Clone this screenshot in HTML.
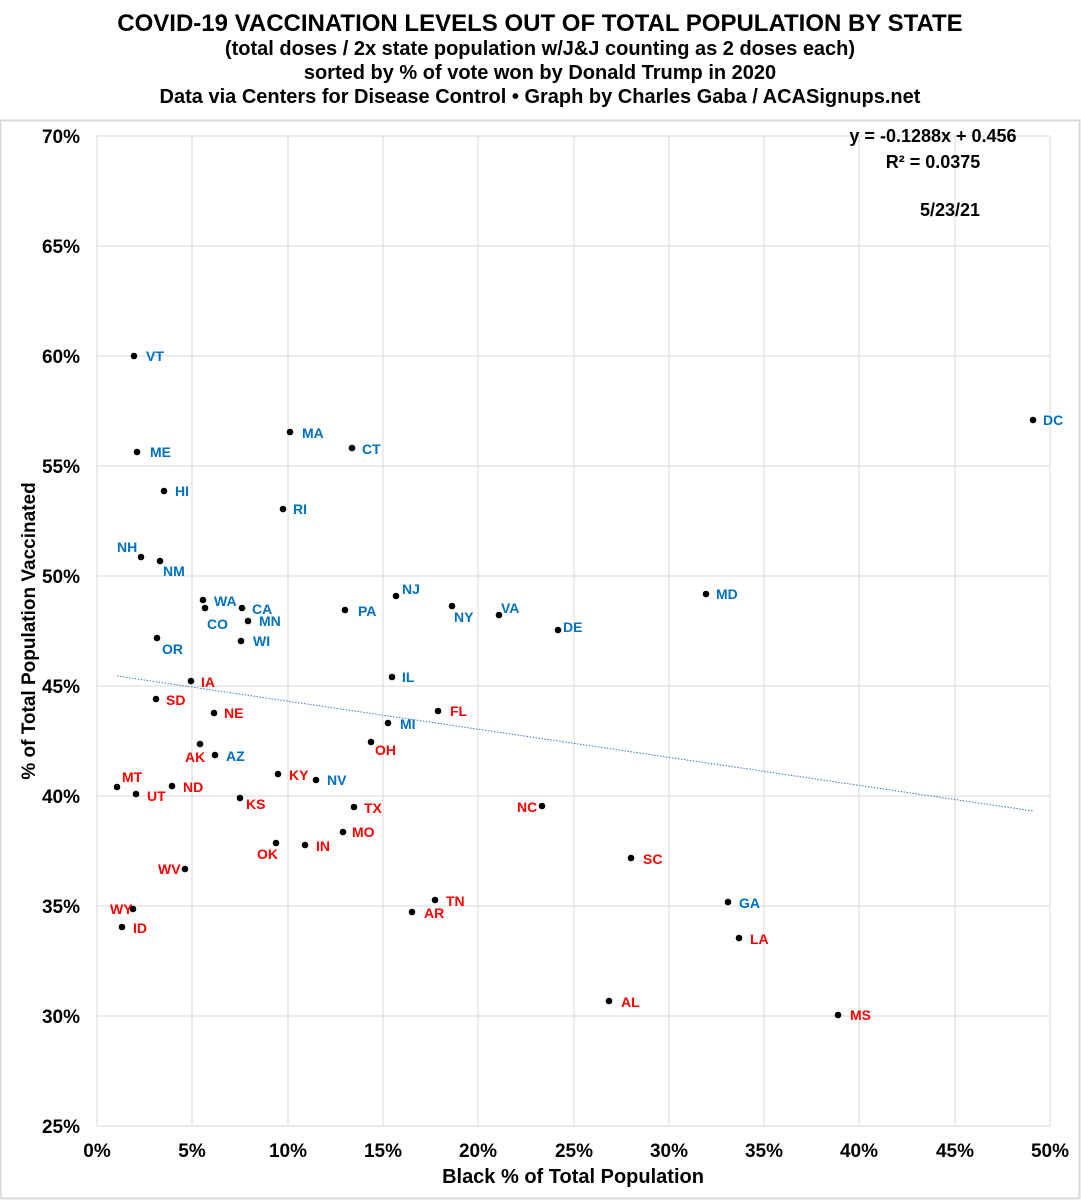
<!DOCTYPE html>
<html><head><meta charset="utf-8"><style>
body{margin:0;background:#fff;}
svg{display:block;font-family:"Liberation Sans",sans-serif;}
.t{font-weight:bold;text-anchor:middle;fill:#000}
.b{fill:#0070C0;font-weight:bold;font-size:14px}
.r{fill:#FF0000;font-weight:bold;font-size:14px}
.yl{font-weight:bold;font-size:19px;text-anchor:end}
.xl{font-weight:bold;font-size:19px;text-anchor:middle}
</style></head><body>
<svg width="1081" height="1200" xmlns="http://www.w3.org/2000/svg">
<text x="540" y="31" class="t" font-size="24">COVID-19 VACCINATION LEVELS OUT OF TOTAL POPULATION BY STATE</text>
<text x="540" y="55" class="t" font-size="20">(total doses / 2x state population w/J&amp;J counting as 2 doses each)</text>
<text x="540" y="79" class="t" font-size="20">sorted by % of vote won by Donald Trump in 2020</text>
<text x="540" y="103" class="t" font-size="20">Data via Centers for Disease Control • Graph by Charles Gaba / ACASignups.net</text>
<rect x="0.5" y="120.5" width="1079" height="1078" fill="none" stroke="#d9d9d9" stroke-width="2"/>
<g stroke="#d9d9d9" stroke-width="1">
<line x1="97" y1="136" x2="1050" y2="136"/><line x1="97" y1="246" x2="1050" y2="246"/><line x1="97" y1="356" x2="1050" y2="356"/><line x1="97" y1="466" x2="1050" y2="466"/><line x1="97" y1="576" x2="1050" y2="576"/><line x1="97" y1="686" x2="1050" y2="686"/><line x1="97" y1="796" x2="1050" y2="796"/><line x1="97" y1="906" x2="1050" y2="906"/><line x1="97" y1="1016" x2="1050" y2="1016"/><line x1="97" y1="1126" x2="1050" y2="1126"/>
<line x1="97" y1="136" x2="97" y2="1126"/><line x1="192" y1="136" x2="192" y2="1126"/><line x1="288" y1="136" x2="288" y2="1126"/><line x1="383" y1="136" x2="383" y2="1126"/><line x1="478" y1="136" x2="478" y2="1126"/><line x1="574" y1="136" x2="574" y2="1126"/><line x1="669" y1="136" x2="669" y2="1126"/><line x1="764" y1="136" x2="764" y2="1126"/><line x1="859" y1="136" x2="859" y2="1126"/><line x1="955" y1="136" x2="955" y2="1126"/><line x1="1050" y1="136" x2="1050" y2="1126"/>
</g>
<g class="yl"><text x="80" y="143">70%</text><text x="80" y="253">65%</text><text x="80" y="363">60%</text><text x="80" y="473">55%</text><text x="80" y="583">50%</text><text x="80" y="693">45%</text><text x="80" y="803">40%</text><text x="80" y="913">35%</text><text x="80" y="1023">30%</text><text x="80" y="1133">25%</text></g>
<g class="xl"><text x="97" y="1157">0%</text><text x="192" y="1157">5%</text><text x="288" y="1157">10%</text><text x="383" y="1157">15%</text><text x="478" y="1157">20%</text><text x="574" y="1157">25%</text><text x="669" y="1157">30%</text><text x="764" y="1157">35%</text><text x="859" y="1157">40%</text><text x="955" y="1157">45%</text><text x="1050" y="1157">50%</text></g>
<text x="573" y="1183" class="t" font-size="20">Black % of Total Population</text>
<text transform="translate(35,631) rotate(-90)" class="t" font-size="19">% of Total Population Vaccinated</text>
<text x="933" y="142" class="t" font-size="18">y = -0.1288x + 0.456</text>
<text x="933" y="168" class="t" font-size="18">R² = 0.0375</text>
<text x="950" y="216" class="t" font-size="18">5/23/21</text>
<line x1="117" y1="676" x2="1033" y2="811" stroke="#4472C4" stroke-width="1" stroke-dasharray="1.5,1.5"/>
<g fill="#000">
<circle cx="134" cy="356" r="3.3"/><circle cx="137" cy="452" r="3.3"/><circle cx="164" cy="491" r="3.3"/><circle cx="141" cy="557" r="3.3"/><circle cx="160" cy="561" r="3.3"/><circle cx="203" cy="600" r="3.3"/><circle cx="205" cy="608" r="3.3"/><circle cx="242" cy="608" r="3.3"/><circle cx="248" cy="621" r="3.3"/><circle cx="241" cy="641" r="3.3"/><circle cx="157" cy="638" r="3.3"/><circle cx="290" cy="432" r="3.3"/><circle cx="352" cy="448" r="3.3"/><circle cx="283" cy="509" r="3.3"/><circle cx="345" cy="610" r="3.3"/><circle cx="396" cy="596" r="3.3"/><circle cx="452" cy="606" r="3.3"/><circle cx="499" cy="615" r="3.3"/><circle cx="558" cy="630" r="3.3"/><circle cx="706" cy="594" r="3.3"/><circle cx="1033" cy="420" r="3.3"/><circle cx="392" cy="677" r="3.3"/><circle cx="438" cy="711" r="3.3"/><circle cx="388" cy="723" r="3.3"/><circle cx="371" cy="742" r="3.3"/><circle cx="191" cy="681" r="3.3"/><circle cx="156" cy="699" r="3.3"/><circle cx="214" cy="713" r="3.3"/><circle cx="200" cy="744" r="3.3"/><circle cx="215" cy="755" r="3.3"/><circle cx="117" cy="787" r="3.3"/><circle cx="136" cy="794" r="3.3"/><circle cx="172" cy="786" r="3.3"/><circle cx="278" cy="774" r="3.3"/><circle cx="316" cy="780" r="3.3"/><circle cx="240" cy="798" r="3.3"/><circle cx="354" cy="807" r="3.3"/><circle cx="542" cy="806" r="3.3"/><circle cx="343" cy="832" r="3.3"/><circle cx="276" cy="843" r="3.3"/><circle cx="305" cy="845" r="3.3"/><circle cx="185" cy="869" r="3.3"/><circle cx="631" cy="858" r="3.3"/><circle cx="435" cy="900" r="3.3"/><circle cx="412" cy="912" r="3.3"/><circle cx="728" cy="902" r="3.3"/><circle cx="133" cy="909" r="3.3"/><circle cx="122" cy="927" r="3.3"/><circle cx="739" cy="938" r="3.3"/><circle cx="609" cy="1001" r="3.3"/><circle cx="838" cy="1015" r="3.3"/>
</g>
<g class="b">
<text x="146" y="361">VT</text><text x="150" y="457">ME</text><text x="175" y="496">HI</text><text x="117" y="552">NH</text><text x="163" y="576">NM</text><text x="214" y="606">WA</text><text x="207" y="629">CO</text><text x="252" y="614">CA</text><text x="259" y="626">MN</text><text x="253" y="646">WI</text><text x="162" y="654">OR</text><text x="302" y="438">MA</text><text x="362" y="454">CT</text><text x="293" y="514">RI</text><text x="358" y="616">PA</text><text x="402" y="594">NJ</text><text x="454" y="622">NY</text><text x="501" y="613">VA</text><text x="563" y="632">DE</text><text x="716" y="599">MD</text><text x="1043" y="425">DC</text><text x="402" y="682">IL</text><text x="400" y="729">MI</text><text x="226" y="761">AZ</text><text x="327" y="785">NV</text><text x="739" y="908">GA</text>
</g>
<g class="r">
<text x="450" y="716">FL</text><text x="375" y="755">OH</text><text x="201" y="687">IA</text><text x="166" y="705">SD</text><text x="224" y="718">NE</text><text x="185" y="762">AK</text><text x="122" y="782">MT</text><text x="147" y="801">UT</text><text x="183" y="792">ND</text><text x="289" y="780">KY</text><text x="246" y="809">KS</text><text x="364" y="813">TX</text><text x="517" y="812">NC</text><text x="352" y="837">MO</text><text x="257" y="859">OK</text><text x="316" y="851">IN</text><text x="158" y="874">WV</text><text x="643" y="864">SC</text><text x="446" y="906">TN</text><text x="424" y="918">AR</text><text x="110" y="914">WY</text><text x="133" y="933">ID</text><text x="750" y="944">LA</text><text x="621" y="1007">AL</text><text x="850" y="1020">MS</text>
</g>
</svg>
</body></html>
